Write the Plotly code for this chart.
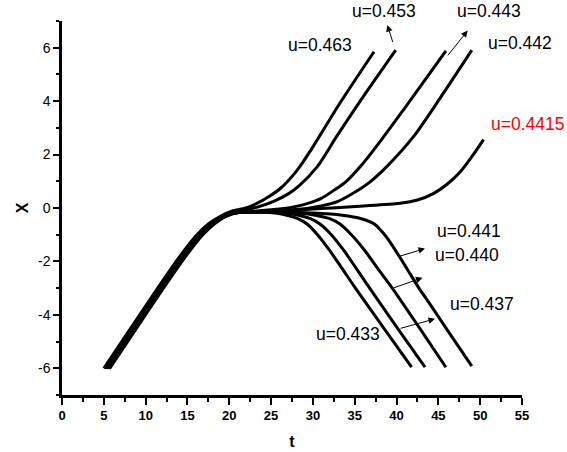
import plotly.graph_objects as go

# ---- data ----
t_463 = [5.0, 8.0, 11.0, 14.0, 16.0, 17.5, 19.0, 20.3, 22.0, 23.3, 24.7, 26.1, 28.1, 30.0, 33.2, 37.3]
x_463 = [-6.0, -4.6, -3.2, -1.85, -1.05, -0.6, -0.3, -0.12, 0.0, 0.17, 0.42, 0.73, 1.41, 2.29, 3.91, 5.85]

t_453 = [5.1, 8.1, 11.1, 14.1, 16.1, 17.6, 19.1, 20.6, 22.3, 24.0, 25.5, 27.0, 28.3, 30.5, 32.8, 36.0, 39.9]
x_453 = [-6.0, -4.6, -3.2, -1.85, -1.05, -0.6, -0.3, -0.16, -0.05, 0.1, 0.28, 0.52, 0.82, 1.54, 2.66, 4.16, 5.91]

t_443 = [5.2, 8.2, 11.2, 14.2, 16.2, 17.7, 19.2, 20.7, 23.0, 26.0, 28.0, 29.5, 31.0, 32.5, 34.0, 35.8, 38.3, 41.0, 45.9]
x_443 = [-6.0, -4.6, -3.2, -1.85, -1.05, -0.6, -0.3, -0.17, -0.12, -0.04, 0.06, 0.18, 0.36, 0.66, 1.0, 1.6, 2.6, 3.75, 5.88]

t_442 = [5.3, 8.3, 11.3, 14.3, 16.3, 17.8, 19.3, 20.8, 24.0, 28.0, 31.0, 33.0, 34.8, 36.8, 38.8, 42.0, 45.5, 49.0]
x_442 = [-6.0, -4.6, -3.2, -1.85, -1.05, -0.6, -0.3, -0.17, -0.13, -0.06, 0.08, 0.25, 0.55, 0.97, 1.54, 2.66, 4.25, 5.91]

t_4415 = [5.35, 8.35, 11.35, 14.35, 16.35, 17.85, 19.35, 20.85, 25.0, 30.0, 35.6, 40.4, 42.5, 44.4, 46.0, 47.6, 49.0, 50.4]
x_4415 = [-6.0, -4.6, -3.2, -1.85, -1.05, -0.6, -0.3, -0.17, -0.12, -0.04, 0.07, 0.18, 0.3, 0.54, 0.88, 1.35, 1.92, 2.56]

t_441 = [5.4, 8.4, 11.4, 14.4, 16.4, 17.9, 19.4, 20.9, 25.0, 30.0, 33.5, 35.8, 37.3, 38.7, 40.0, 41.3, 42.6, 44.0, 46.5, 49.0]
x_441 = [-6.0, -4.6, -3.2, -1.85, -1.05, -0.6, -0.3, -0.17, -0.15, -0.19, -0.27, -0.4, -0.59, -1.05, -1.65, -2.3, -2.96, -3.6, -4.77, -5.92]

t_440 = [5.5, 8.5, 11.5, 14.5, 16.5, 18.0, 19.5, 21.0, 25.0, 28.0, 30.3, 32.0, 33.2, 34.6, 36.2, 37.8, 39.4, 42.7, 45.9]
x_440 = [-6.0, -4.6, -3.2, -1.85, -1.05, -0.6, -0.3, -0.17, -0.15, -0.18, -0.27, -0.4, -0.59, -1.0, -1.59, -2.29, -2.96, -4.47, -5.96]

t_437 = [5.6, 8.6, 11.6, 14.6, 16.6, 18.1, 19.6, 21.1, 24.0, 26.5, 28.3, 29.7, 30.8, 32.2, 33.7, 35.2, 36.7, 40.0, 43.4]
x_437 = [-6.0, -4.6, -3.2, -1.85, -1.05, -0.6, -0.3, -0.17, -0.15, -0.18, -0.27, -0.4, -0.59, -1.0, -1.59, -2.27, -2.96, -4.45, -5.96]

t_433 = [5.7, 8.7, 11.7, 14.7, 16.7, 18.2, 19.7, 21.2, 23.5, 25.5, 27.0, 28.2, 29.3, 30.6, 32.0, 33.5, 35.0, 38.6, 41.8]
x_433 = [-6.0, -4.6, -3.2, -1.85, -1.05, -0.6, -0.3, -0.17, -0.15, -0.19, -0.28, -0.4, -0.6, -1.02, -1.59, -2.27, -2.96, -4.55, -5.96]

u_labels = ["u=0.463", "u=0.453", "u=0.443", "u=0.442", "u=0.4415",
            "u=0.441", "u=0.440", "u=0.437", "u=0.433"]

x_ticks = [0, 5, 10, 15, 20, 25, 30, 35, 40, 45, 50, 55]
y_ticks = [-6, -4, -2, 0, 2, 4, 6]
y_ticktext = ["-6", "-4", "-2", "0", "2", "4", "6"]

curves = [(t_463, x_463), (t_453, x_453), (t_443, x_443), (t_442, x_442),
          (t_4415, x_4415), (t_441, x_441), (t_440, x_440), (t_437, x_437),
          (t_433, x_433)]

FONT = "Arial, Liberation Sans, sans-serif"

fig = go.Figure()
for (tt, xx), name in zip(curves, u_labels):
    fig.add_trace(go.Scatter(x=tt, y=xx, mode="lines", name=name,
                             line=dict(color="black", width=3, shape="spline", smoothing=0.8),
                             showlegend=False, hoverinfo="skip"))

# label placement in paper coordinates (fraction of plot area)
label_pos = [(0.5598, 0.9345), (0.6996, 1.0260), (0.9293, 1.0260), (0.9967, 0.9410), (1.0126, 0.7250),
             (0.8854, 0.4385), (0.8798, 0.3750), (0.9124, 0.2440), (0.6217, 0.1640)]
annotations = []
for name, (lx, ly) in zip(u_labels, label_pos):
    annotations.append(dict(x=lx, y=ly, xref="paper", yref="paper", text=name, showarrow=False,
                            font=dict(family=FONT, size=17.5,
                                      color="#FF0000" if name == "u=0.4415" else "black"),
                            xanchor="center", yanchor="middle"))

# arrows: (tail t, tail X, head t, head X)
arrows = [(39.6, 6.16, 38.9, 6.85), (46.0, 5.66, 48.5, 6.64),
          (40.0, -1.84, 43.4, -1.52), (39.4, -3.02, 43.1, -2.61), (40.3, -4.52, 44.6, -4.15)]
for tx, ty, hx, hy in arrows:
    annotations.append(dict(x=hx, y=hy, ax=tx, ay=ty, xref="x", yref="y", axref="x", ayref="y",
                            text="", showarrow=True, arrowhead=2, arrowsize=1.3,
                            arrowwidth=1, arrowcolor="black"))

fig.update_layout(
    width=567, height=452,
    margin=dict(l=62, r=45, t=21, b=57),
    paper_bgcolor="white", plot_bgcolor="white",
    font=dict(family=FONT, color="black"),
    annotations=annotations,
    xaxis=dict(range=[0, 55], tickmode="array", tickvals=x_ticks,
               showgrid=False, zeroline=False, showline=True, linecolor="black", linewidth=2.5,
               ticks="outside", ticklen=7, tickwidth=2, tickcolor="black",
               tickfont=dict(family=FONT, size=13, weight="bold", color="black"),
               minor=dict(ticks="outside", ticklen=4, tickwidth=2, tickcolor="black", dtick=2.5, tick0=0, showgrid=False),
               title=dict(text="t", font=dict(family=FONT, size=16, weight="bold", color="black"), standoff=14),
               automargin=False),
    yaxis=dict(range=[-7, 7], tickmode="array", tickvals=y_ticks, ticktext=y_ticktext,
               showgrid=False, zeroline=False, showline=True, linecolor="black", linewidth=2.5,
               ticks="outside", ticklen=6, tickwidth=2, tickcolor="black",
               tickfont=dict(family=FONT, size=14, color="black"),
               minor=dict(ticks="outside", ticklen=3, tickwidth=2, tickcolor="black", dtick=1, tick0=0, showgrid=False),
               title=dict(text="X", font=dict(family=FONT, size=16, weight="bold", color="black"), standoff=6),
               automargin=False),
)

fig.write_html("out.html", config={"displayModeBar": False},
               post_script="document.body.style.margin='0px';")
